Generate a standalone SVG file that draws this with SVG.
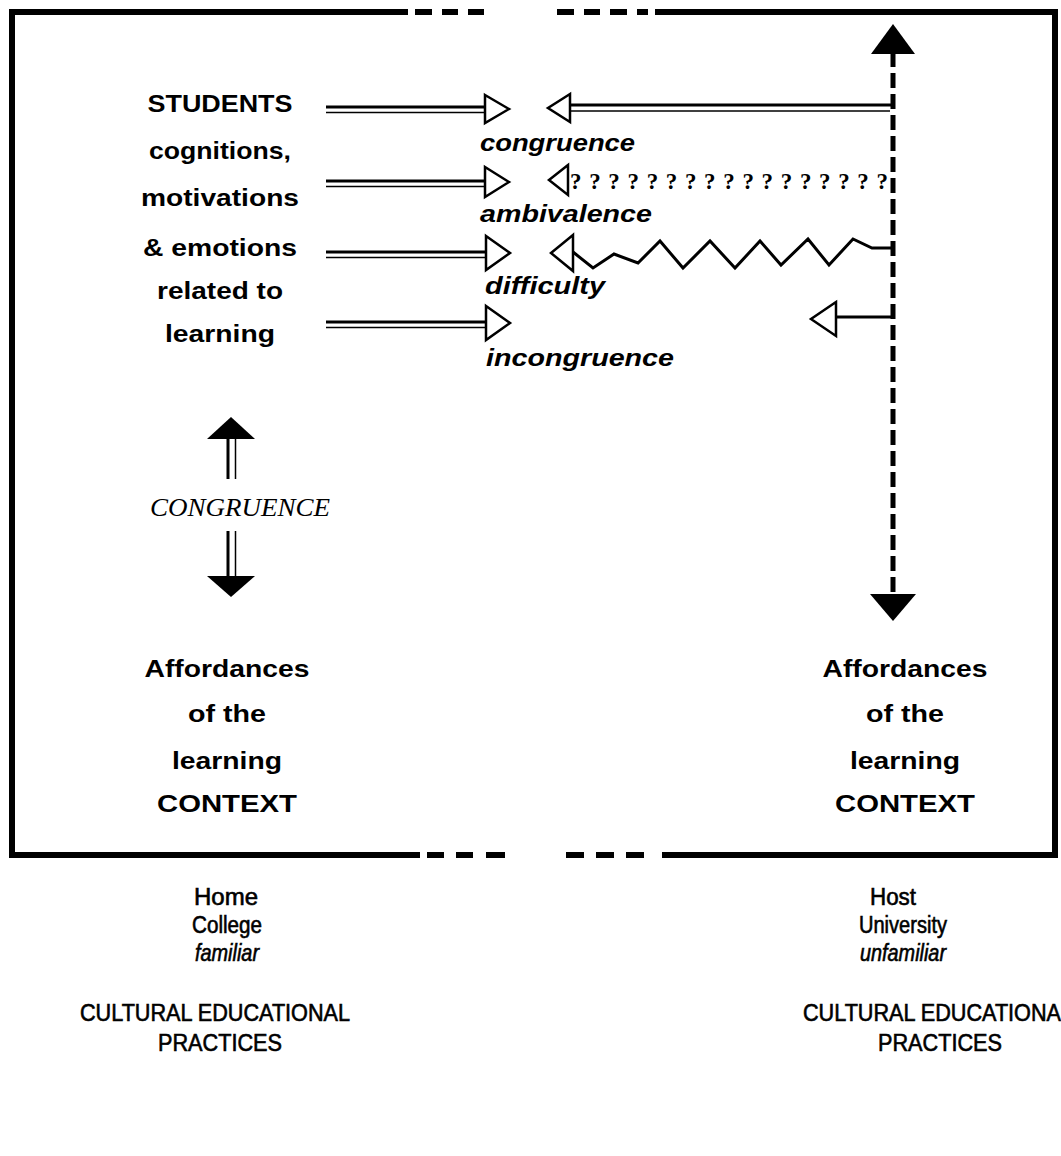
<svg xmlns="http://www.w3.org/2000/svg" width="1061" height="1156" viewBox="0 0 1061 1156">
  <style>
    .lbl { font-family: "Liberation Sans", Arial, sans-serif; font-weight: bold; font-size: 24px; fill: #000; text-anchor: middle; }
    .rel { font-family: "Liberation Sans", Arial, sans-serif; font-weight: bold; font-style: italic; font-size: 24px; fill: #000; }
    .cap { font-family: "Liberation Sans", Arial, sans-serif; font-size: 23px; fill: #000; stroke: #000; stroke-width: 0.6; text-anchor: middle; }
    .capi { font-style: italic; }
    .serif { font-family: "Liberation Serif", "Times New Roman", serif; font-style: italic; font-size: 25px; fill: #000; text-anchor: middle; }
    .qm { font-family: "Liberation Serif", "Times New Roman", serif; font-weight: bold; font-size: 23px; fill: #000; }
    .frame { stroke: #000; stroke-width: 6; fill: none; }
    .thick { stroke: #000; stroke-width: 3; fill: none; }
    .thin { stroke: #000; stroke-width: 1.5; fill: none; }
    .head { fill: #fff; stroke: #000; stroke-width: 2.5; stroke-linejoin: miter; }
    .solidhead { fill: #000; stroke: none; }
    .axis { stroke: #000; stroke-width: 5; stroke-dasharray: 15 6; fill: none; }
    .line { stroke: #000; stroke-width: 3; fill: none; stroke-linejoin: miter; }
  </style>

  <!-- outer frame with dashed openings top and bottom -->
  <g id="frame">
    <path class="frame" d="M 408 12 L 12 12 L 12 855 L 420 855"/>
    <path class="frame" d="M 655 12 L 1055 12 L 1055 855 L 662 855"/>
    <path class="frame" d="M 415 12 H 432 M 442 12 H 458 M 468 12 H 484 M 557 12 H 574 M 584 12 H 600 M 610 12 H 627 M 637 12 H 648"/>
    <path class="frame" d="M 427 855 H 444 M 456 855 H 473 M 486 855 H 505 M 566 855 H 584 M 596 855 H 614 M 626 855 H 644"/>
  </g>

  <!-- student side -->
  <g id="students">
    <text class="lbl" x="220" y="112" textLength="145" lengthAdjust="spacingAndGlyphs">STUDENTS</text>
    <text class="lbl" x="220" y="159" textLength="142" lengthAdjust="spacingAndGlyphs">cognitions,</text>
    <text class="lbl" x="220" y="206" textLength="158" lengthAdjust="spacingAndGlyphs">motivations</text>
    <text class="lbl" x="220" y="256" textLength="154" lengthAdjust="spacingAndGlyphs">&amp; emotions</text>
    <text class="lbl" x="220" y="299" textLength="126" lengthAdjust="spacingAndGlyphs">related to</text>
    <text class="lbl" x="220" y="342" textLength="110" lengthAdjust="spacingAndGlyphs">learning</text>
  </g>

  <!-- outcome labels -->
  <g id="outcomes">
    <text class="rel" x="480" y="151" textLength="155" lengthAdjust="spacingAndGlyphs">congruence</text>
    <text class="rel" x="480" y="222" textLength="172" lengthAdjust="spacingAndGlyphs">ambivalence</text>
    <text class="rel" x="485" y="294" textLength="120" lengthAdjust="spacingAndGlyphs">difficulty</text>
    <text class="rel" x="486" y="366" textLength="188" lengthAdjust="spacingAndGlyphs">incongruence</text>
  </g>

  <!-- home context -->
  <g id="home-context">
    <text class="lbl" x="227" y="677" textLength="165" lengthAdjust="spacingAndGlyphs">Affordances</text>
    <text class="lbl" x="227" y="722" textLength="78" lengthAdjust="spacingAndGlyphs">of the</text>
    <text class="lbl" x="227" y="769" textLength="110" lengthAdjust="spacingAndGlyphs">learning</text>
    <text class="lbl" x="227" y="812" textLength="140" lengthAdjust="spacingAndGlyphs">CONTEXT</text>
  </g>

  <!-- host context -->
  <g id="host-context">
    <text class="lbl" x="905" y="677" textLength="165" lengthAdjust="spacingAndGlyphs">Affordances</text>
    <text class="lbl" x="905" y="722" textLength="78" lengthAdjust="spacingAndGlyphs">of the</text>
    <text class="lbl" x="905" y="769" textLength="110" lengthAdjust="spacingAndGlyphs">learning</text>
    <text class="lbl" x="905" y="812" textLength="140" lengthAdjust="spacingAndGlyphs">CONTEXT</text>
  </g>

  <!-- congruence between students and home context -->
  <g id="congruence-home">
    <text class="serif" x="240" y="516" textLength="180" lengthAdjust="spacingAndGlyphs">CONGRUENCE</text>
  </g>

  <!-- institution captions -->
  <g id="home-caption">
    <text class="cap" x="226" y="905" textLength="64" lengthAdjust="spacingAndGlyphs">Home</text>
    <text class="cap" x="227" y="933" textLength="70" lengthAdjust="spacingAndGlyphs">College</text>
    <text class="cap capi" x="227" y="961" textLength="64" lengthAdjust="spacingAndGlyphs">familiar</text>
    <text class="cap" x="215" y="1021" textLength="270" lengthAdjust="spacingAndGlyphs">CULTURAL EDUCATIONAL</text>
    <text class="cap" x="220" y="1051" textLength="124" lengthAdjust="spacingAndGlyphs">PRACTICES</text>
  </g>
  <g id="host-caption">
    <text class="cap" x="893" y="905" textLength="46" lengthAdjust="spacingAndGlyphs">Host</text>
    <text class="cap" x="903" y="933" textLength="88" lengthAdjust="spacingAndGlyphs">University</text>
    <text class="cap capi" x="903" y="961" textLength="86" lengthAdjust="spacingAndGlyphs">unfamiliar</text>
    <text class="cap" x="938" y="1021" textLength="270" lengthAdjust="spacingAndGlyphs">CULTURAL EDUCATIONAL</text>
    <text class="cap" x="940" y="1051" textLength="124" lengthAdjust="spacingAndGlyphs">PRACTICES</text>
  </g>

  <g id="connectors">
    <!-- student-side double arrows -->
    <g id="student-arrows">
      <path class="thick" d="M 326 107 H 486 M 326 181 H 486 M 326 252 H 486 M 326 322 H 486"/>
      <path class="thin" d="M 326 112.5 H 486 M 326 186.5 H 486 M 326 257.5 H 486 M 326 327.5 H 486"/>
      <path class="head" d="M 485 95 L 509 109 L 485 123 Z"/>
      <path class="head" d="M 485 167 L 509 182 L 485 197 Z"/>
      <path class="head" d="M 486 236 L 510 253 L 486 270 Z"/>
      <path class="head" d="M 486 306 L 510 323 L 486 340 Z"/>
    </g>

    <!-- host-side arrows -->
    <g id="host-arrows">
      <!-- congruence: double line -->
      <path class="thick" d="M 570 105 H 893"/>
      <path class="thin" d="M 570 111 H 890"/>
      <path class="head" d="M 570 94 L 548 108 L 570 122 Z"/>
      <!-- ambivalence: question marks -->
      <path class="head" d="M 568 165 L 549 180 L 568 195 Z"/>
      <text class="qm" x="570" y="189" textLength="318" lengthAdjust="spacing">?????????????????</text>
      <!-- difficulty: zigzag -->
      <path class="line" d="M 573 252 L 593 268 L 614 254 L 638 263 L 660 241 L 683 268 L 710 241 L 735 268 L 760 241 L 781 265 L 808 239 L 829 265 L 853 239 L 872 248 L 893 248"/>
      <path class="head" d="M 573 235 L 551 253 L 573 271 Z"/>
      <!-- incongruence: falls short -->
      <path class="line" d="M 836 317 H 893"/>
      <path class="head" d="M 836 302 L 811 319 L 836 336 Z"/>
    </g>

    <!-- host context vertical link -->
    <g id="host-link">
      <path class="axis" d="M 893 52 V 596"/>
      <path class="solidhead" d="M 893 24 L 871 54 L 915 54 Z"/>
      <path class="solidhead" d="M 870 594 L 916 594 L 893 621 Z"/>
    </g>

    <!-- home context congruence link -->
    <g id="home-link">
      <path class="thick" d="M 228 437 V 479 M 228 531 V 578"/>
      <path class="thin" d="M 235.5 437 V 479 M 235.5 531 V 578"/>
      <path class="solidhead" d="M 231 417 L 207 439 L 255 439 Z"/>
      <path class="solidhead" d="M 207 576 L 255 576 L 231 597 Z"/>
    </g>
  </g>
</svg>
